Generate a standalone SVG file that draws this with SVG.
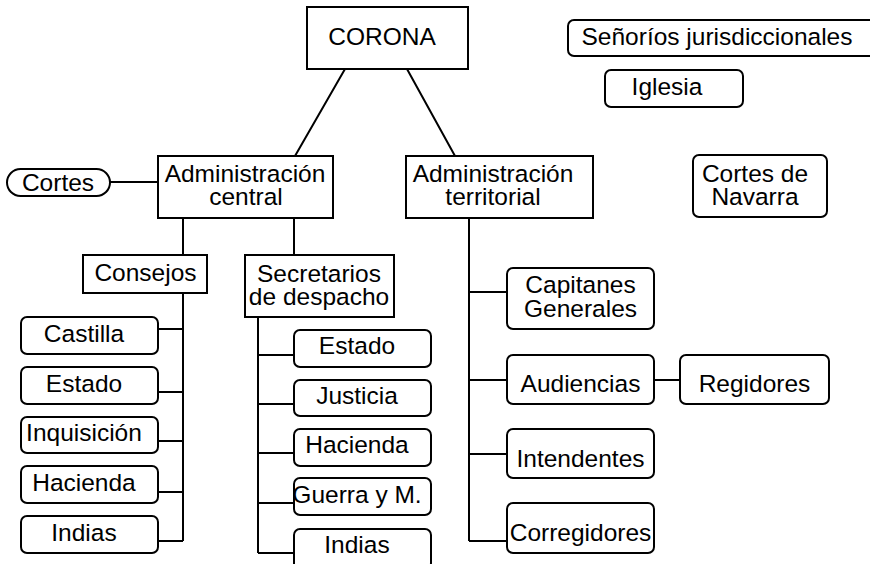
<svg xmlns="http://www.w3.org/2000/svg" width="870" height="564" viewBox="0 0 870 564">
<style>
.b{fill:#fff;stroke:#000;stroke-width:2}
.c{fill:none;stroke:#000;stroke-width:2}
text{font-family:"Liberation Sans",Arial,sans-serif;font-size:24.5px;fill:#000;text-anchor:middle}
</style>
<rect width="870" height="564" fill="#fff"/>
<g id="connectors">
<path class="c" d="M345,69 L295,156 M407,69 L455,156"/>
<path class="c" d="M110,182 H158"/>
<path class="c" d="M183,218 V255 M294,218 V255"/>
<path class="c" d="M183,293 V541 M158,329 H183 M158,392 H183 M158,441 H183 M158,492 H183 M158,541 H183"/>
<path class="c" d="M258,317 V553 M258,355 H294 M258,404 H294 M258,453 H294 M258,503 H294 M258,553 H294"/>
<path class="c" d="M469,218 V541 M469,292 H507 M469,380 H507 M469,454 H507 M469,541 H507 M654,380 H680"/>
</g>
<g id="corona"><rect class="b" x="307" y="7" width="161" height="62"/><text x="382" y="45">CORONA</text></g>
<g id="senorios"><rect class="b" x="568" y="20" width="310" height="36" rx="6"/><text x="717" y="45">Señoríos jurisdiccionales</text></g>
<g id="iglesia"><rect class="b" x="605" y="70" width="138" height="37" rx="6"/><text x="667" y="95">Iglesia</text></g>
<g id="adm-central"><rect class="b" x="158" y="156" width="175" height="62"/><text x="245" y="182">Administración</text><text x="246" y="205">central</text></g>
<g id="adm-territorial"><rect class="b" x="406" y="156" width="187" height="62"/><text x="493" y="182">Administración</text><text x="493" y="205">territorial</text></g>
<g id="cortes"><rect class="b" x="7" y="169" width="103" height="27" rx="13.5"/><text x="58" y="191">Cortes</text></g>
<g id="cortes-navarra"><rect class="b" x="693" y="155" width="134" height="62" rx="6"/><text x="755" y="182">Cortes de</text><text x="755" y="205">Navarra</text></g>
<g id="consejos"><rect class="b" x="83" y="255" width="124" height="38"/><text x="145.5" y="281">Consejos</text></g>
<g id="secretarios"><rect class="b" x="245" y="255" width="149" height="62"/><text x="319" y="282">Secretarios</text><text x="319" y="305">de despacho</text></g>
<g id="c-castilla"><rect class="b" x="21" y="317" width="137" height="37" rx="6"/><text x="84" y="342">Castilla</text></g>
<g id="c-estado"><rect class="b" x="21" y="367" width="137" height="37" rx="6"/><text x="84" y="392">Estado</text></g>
<g id="c-inquisicion"><rect class="b" x="21" y="417" width="137" height="36" rx="6"/><text x="84" y="441">Inquisición</text></g>
<g id="c-hacienda"><rect class="b" x="21" y="466" width="137" height="37" rx="6"/><text x="84" y="491">Hacienda</text></g>
<g id="c-indias"><rect class="b" x="21" y="516" width="137" height="37" rx="6"/><text x="84" y="541">Indias</text></g>
<g id="s-estado"><rect class="b" x="294" y="330" width="137" height="37" rx="6"/><text x="357" y="354">Estado</text></g>
<g id="s-justicia"><rect class="b" x="294" y="380" width="137" height="36" rx="6"/><text x="357" y="404">Justicia</text></g>
<g id="s-hacienda"><rect class="b" x="294" y="429" width="137" height="37" rx="6"/><text x="357" y="453">Hacienda</text></g>
<g id="s-guerra"><rect class="b" x="294" y="478" width="137" height="37" rx="6"/><text x="357" y="503">Guerra y M.</text></g>
<g id="s-indias"><rect class="b" x="294" y="529" width="137" height="40" rx="6"/><text x="357" y="553">Indias</text></g>
<g id="capitanes"><rect class="b" x="507" y="268" width="147" height="61" rx="6"/><text x="580.5" y="293">Capitanes</text><text x="580.5" y="317">Generales</text></g>
<g id="audiencias"><rect class="b" x="507" y="355" width="147" height="49" rx="6"/><text x="580.5" y="392">Audiencias</text></g>
<g id="regidores"><rect class="b" x="680" y="355" width="149" height="49" rx="6"/><text x="754.5" y="392">Regidores</text></g>
<g id="intendentes"><rect class="b" x="507" y="429" width="147" height="49" rx="6"/><text x="580.5" y="467">Intendentes</text></g>
<g id="corregidores"><rect class="b" x="507" y="503" width="147" height="50" rx="6"/><text x="580.5" y="541">Corregidores</text></g>
</svg>
